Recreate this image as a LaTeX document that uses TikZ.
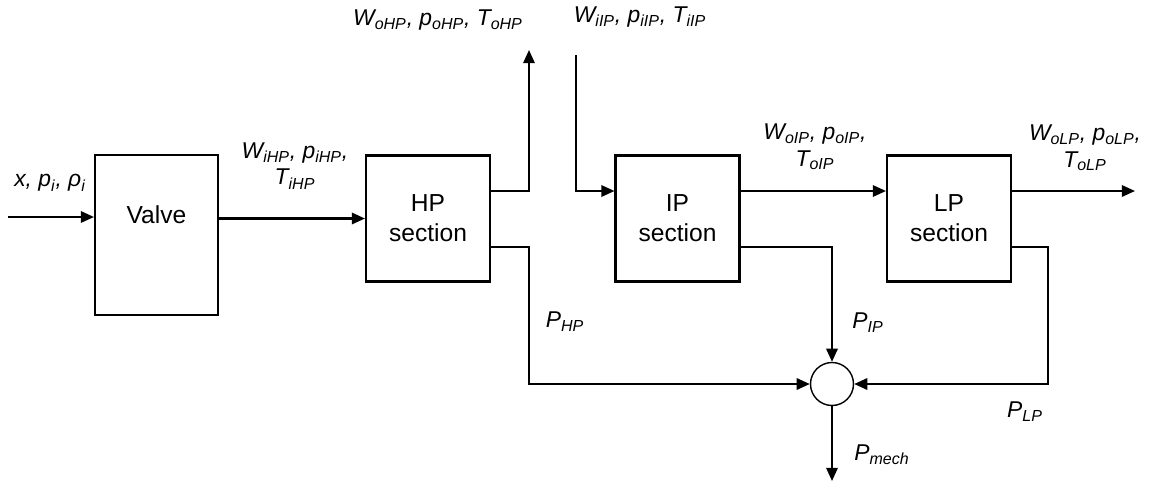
\documentclass[tikz,border=0pt]{standalone}
\usepackage{fontspec}
\setmainfont{Liberation Sans}
\usetikzlibrary{arrows.meta,positioning}
\newcommand{\lsub}[1]{\textsubscript{#1}}
\begin{document}
\begin{tikzpicture}[x=.02cm, y=-.02cm, line width=1.2pt,
	font=\fontsize{14}{17}\selectfont,
	block/.style={draw, minimum width=2.48cm, minimum height=2.52cm, align=center},
	flow/.style={-{Triangle[length=7.5pt,width=6.5pt]}},
	lbl/.style={font=\fontsize{13}{15}\selectfont\itshape, align=center, inner sep=0pt}]
	\useasboundingbox (0,0) rectangle (1153,491);
	\node (valve)     [block, minimum width=2.46cm, minimum height=3.2cm] at (156.5,235) {};
	\node (valvetext) at (156.5,215) {Valve};
	\node (hp)  [block] at (428,218.5)   {HP\\section};
	\node (ip)  [block] at (677.5,218.5) {IP\\section};
	\node (lp)  [block] at (949,218.5)   {LP\\section};
	\node (sum) [draw, circle, minimum size=.86cm, inner sep=0pt, line width=.8pt] at (832,384) {};
	\coordinate (xin)   at (8,217);
	\coordinate (hpup)  at (529,191);
	\coordinate (hpdn)  at (529,247);
	\coordinate (ohp)   at (529,50);
	\coordinate (iip)   at (576,55);
	\coordinate (lpdn)  at (1048,247);
	\coordinate (olp)   at (1135,191);
	\coordinate (pmech) at (832,481);
	\draw[flow] (xin) -- (xin -| valve.west);
	\draw[flow] (valve.east |- hp.west) -- (hp.west);
	\draw[flow] (hp.east |- hpup) -- (hpup) -- (ohp);
	\draw[flow] (hp.east |- hpdn) -- (hpdn) |- (sum.west);
	\draw[flow] (iip) |- (ip.west |- hpup);
	\draw[flow] (ip.east |- hpup) -- (lp.west |- hpup);
	\draw[flow] (ip.east |- hpdn) -| (sum.north);
	\draw[flow] (lp.east |- olp) -- (olp);
	\draw[flow] (lp.east |- lpdn) -- (lpdn) |- (sum.east);
	\draw[flow] (sum.south) -- (pmech);
	\node (lx)    [lbl] at (50,183)    {x, p\lsub{i}, ρ\lsub{i}};
	\node (lihp)  [lbl] at (295,166)   {W\lsub{iHP}, p\lsub{iHP},\\T\lsub{iHP}};
	\node (lohp)  [lbl] at (438,20)    {W\lsub{oHP}, p\lsub{oHP}, T\lsub{oHP}};
	\node (liip)  [lbl] at (640,17)    {W\lsub{iIP}, p\lsub{iIP}, T\lsub{iIP}};
	\node (loip)  [lbl] at (815,147)   {W\lsub{oIP}, p\lsub{oIP},\\T\lsub{oIP}};
	\node (lolp)  [lbl] at (1085,148)  {W\lsub{oLP}, p\lsub{oLP},\\T\lsub{oLP}};
	\node (lphp)  [lbl] at (565,322)   {P\lsub{HP}};
	\node (lpip)  [lbl] at (868,323)   {P\lsub{IP}};
	\node (lplp)  [lbl] at (1025,412)  {P\lsub{LP}};
	\node (lmech) [lbl] at (882,455)   {P\lsub{mech}};
\end{tikzpicture}
\end{document}
